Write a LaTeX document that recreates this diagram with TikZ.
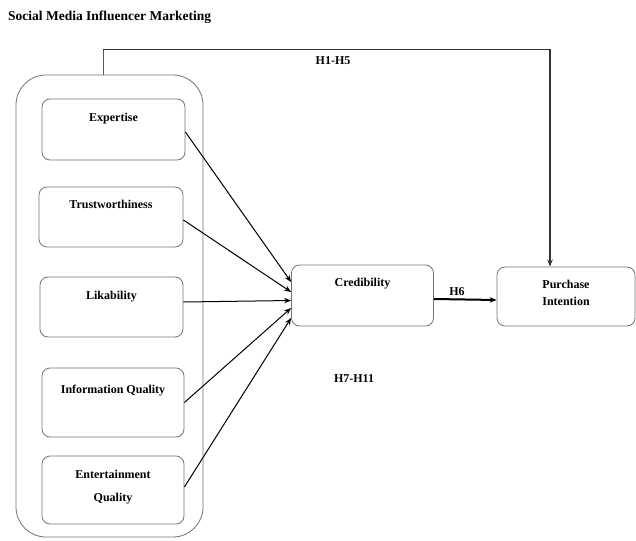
\documentclass[tikz,border=0pt]{standalone}
\usepackage{fontspec}
\setmainfont{Liberation Serif}
\usetikzlibrary{positioning,arrows.meta}
\tikzset{
  factorbox/.style={draw=black!55, line width=0.8pt, rounded corners=8pt, inner sep=0pt},
  boxlabel/.style={inner sep=0pt, text height=8pt, text depth=2.5pt, font=\fontsize{12}{14.5}\selectfont\bfseries},
  pathlabel/.style={inner sep=0pt, font=\fontsize{12}{14.5}\selectfont\bfseries},
  link/.style={draw=black, line width=1pt, -{Stealth[length=7pt,width=5.5pt]}}
}
\begin{document}
\begin{tikzpicture}[x=1pt,y=-1pt]
    \useasboundingbox (0,0) rectangle (636,540);
    \node[anchor=west, inner sep=0pt, font=\fontsize{13.5}{16}\selectfont\bfseries] (title) at (8,17) {Social Media Influencer Marketing};

    % outer group
    \node[factorbox, rounded corners=30pt, minimum width=187pt, minimum height=462pt] (smi) at (109.5,306) {};

    % five dimensions
    \node[factorbox, minimum width=143pt, minimum height=61pt] (exp) at (113.5,129.5) {};
    \node[boxlabel, below=15pt of exp.north] (expT) {Expertise};

    \node[factorbox, minimum width=144pt, minimum height=60pt] (trust) at (111,217) {};
    \node[boxlabel, below=14pt of trust.north] (trustT) {Trustworthiness};

    \node[factorbox, minimum width=143pt, minimum height=60pt] (lik) at (111.5,307) {};
    \node[boxlabel, below=15pt of lik.north] (likT) {Likability};

    \node[factorbox, minimum width=142pt, minimum height=69pt] (info) at (113,402.5) {};
    \node[boxlabel, below=18pt of info.north] (infoT) {Information Quality};

    \node[factorbox, minimum width=142pt, minimum height=68pt] (ent) at (113,490) {};
    \node[pathlabel, align=center, below=14pt of ent.north] (entT) {Entertainment\\[8.5pt]Quality};

    % mediator and outcome
    \node[factorbox, minimum width=142pt, minimum height=61pt] (cred) at (362.5,295.5) {};
    \node[boxlabel, below=14pt of cred.north] (credT) {Credibility};

    \node[factorbox, minimum width=138pt, minimum height=59pt] (pi) at (566,296.5) {};
    \node[pathlabel, align=center, below=13pt of pi.north] (piT) {Purchase\\[2.5pt]Intention};

    % arrows into credibility
    \coordinate (c1) at ([yshift=13.5pt]cred.west);
    \coordinate (c2) at ([yshift=3.5pt]cred.west);
    \coordinate (c3) at ([yshift=-5pt]cred.west);
    \coordinate (c4) at ([yshift=-12.5pt]cred.west);
    \coordinate (c5) at ([yshift=-22.5pt]cred.west);
    \draw[link] ([yshift=-2.5pt]exp.east) -- (c1);
    \draw[link] ([yshift=-3pt]trust.east) -- (c2);
    \draw[link] ([yshift=5pt]lik.east) -- (c3);
    \draw[link] (info.east) -- (c4);
    \draw[link] ([yshift=3pt]ent.east) -- (c5);

    \draw[link, line width=2pt] ([yshift=-3.5pt]cred.east) -- ([yshift=-3.5pt]pi.west);
    \node[pathlabel] (h6) at (457,292) {H6};

    % direct path
    \draw[black!65, line width=1pt] ([xshift=-6.5pt]smi.north) -- ++(0,-25) coordinate (bend);
    \draw[link, line width=1.2pt, draw=black!80] (bend) -| ([xshift=-16pt]pi.north);
    \node[pathlabel] (h15) at (333,61) {H1-H5};

    \node[pathlabel] (h711) at (354,379) {H7-H11};
  \end{tikzpicture}
\end{document}
